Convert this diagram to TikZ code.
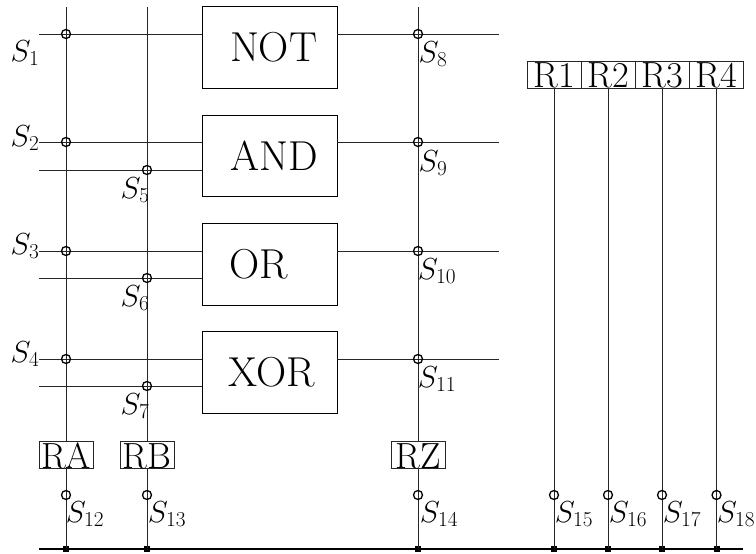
\RequirePackage{fix-cm}
\documentclass[tikz,border=0pt]{standalone}
\tikzset{
  wire/.style={line width=0.9bp,black!85},
  bus/.style={line width=1.6bp,black},
  gate/.style={draw,line width=0.8bp,text width=135bp,minimum height=81.5bp,inner sep=0pt,align=left,font=\fontsize{42}{44}\selectfont},
  reg/.style={draw,line width=0.7bp,black!85,text=black,minimum width=54bp,minimum height=27bp,inner sep=0pt,text height=27bp,text depth=0pt,font=\fontsize{36.5}{40}\selectfont},
  sw/.style={circle,draw,line width=1.3bp,black,fill=none,minimum size=9bp,inner sep=0pt},
  tap/.style={rectangle,fill=black,minimum size=6bp,inner sep=0pt},
  lab/.style={inner sep=0pt,font=\fontsize{30.5}{33}\selectfont}
}
\begin{document}
\begin{tikzpicture}[x=1bp,y=-1bp]
\useasboundingbox (0,0) rectangle (756,554);
% gates
\node[gate] (not) at (269.5,47.5) {\hspace*{28bp}NOT};
\node[gate] (and) at (269.5,156) {\hspace*{28.5bp}AND};
\node[gate] (or) at (269.5,264.5) {\hspace*{27bp}OR};
\node[gate] (xor) at (269.5,372.5) {\hspace*{26.5bp}XOR};
% registers
\node[reg] (ra) at (66,454.5) {RA};
\node[reg] (rb) at (147,454.5) {RB};
\node[reg] (rz) at (418,454.5) {RZ};
\node[reg] (r1) at (554,74.5) {R1};
\node[reg] (r2) at (608,74.5) {R2};
\node[reg] (r3) at (662,74.5) {R3};
\node[reg] (r4) at (716.5,74.5) {R4};
% free ends
\coordinate (ta) at (66,7);
\coordinate (tb) at (147,7);
\coordinate (tz) at (418,7);
\coordinate (busl) at (39,549);
\coordinate (busr) at (743,549);
\coordinate (l1) at (39,34);
\coordinate (l2) at (39,142);
\coordinate (l2b) at (39,170);
\coordinate (l3) at (39,251);
\coordinate (l3b) at (39,278);
\coordinate (l4) at (39,359);
\coordinate (l4b) at (39,386);
\coordinate (o1) at (499,34);
\coordinate (o2) at (499,142);
\coordinate (o3) at (499,251);
\coordinate (o4) at (499,359);
% bus taps
\node[tap] (pa) at (66,549) {};
\node[tap] (pb) at (147,549) {};
\node[tap] (pz) at (418,549) {};
\node[tap] (p1) at (554,549) {};
\node[tap] (p2) at (608,549) {};
\node[tap] (p3) at (662,549) {};
\node[tap] (p4) at (716.5,549) {};
% wires
\draw[wire] (ta) -- (ra.north);
\draw[wire] (tb) -- (rb.north);
\draw[wire] (tz) -- (rz.north);
\draw[wire] (ra.south) -- (pa.center);
\draw[wire] (rb.south) -- (pb.center);
\draw[wire] (rz.south) -- (pz.center);
\draw[wire] (r1.south) -- (p1.center);
\draw[wire] (r2.south) -- (p2.center);
\draw[wire] (r3.south) -- (p3.center);
\draw[wire] (r4.south) -- (p4.center);
\draw[wire] (l1) -- (l1 -| not.west);
\draw[wire] (l2) -- (l2 -| and.west);
\draw[wire] (l2b) -- (l2b -| and.west);
\draw[wire] (l3) -- (l3 -| or.west);
\draw[wire] (l3b) -- (l3b -| or.west);
\draw[wire] (l4) -- (l4 -| xor.west);
\draw[wire] (l4b) -- (l4b -| xor.west);
\draw[wire] (o1 -| not.east) -- (o1);
\draw[wire] (o2 -| and.east) -- (o2);
\draw[wire] (o3 -| or.east) -- (o3);
\draw[wire] (o4 -| xor.east) -- (o4);
\draw[bus] (busl) -- (busr);
% switches
\node[sw] (s1) at (66,34) {};
\node[sw] (s2) at (66,142) {};
\node[sw] (s3) at (66,251) {};
\node[sw] (s4) at (66,359) {};
\node[sw] (s5) at (147,170) {};
\node[sw] (s6) at (147,278) {};
\node[sw] (s7) at (147,386) {};
\node[sw] (s8) at (418,34) {};
\node[sw] (s9) at (418,142) {};
\node[sw] (s10) at (418,251) {};
\node[sw] (s11) at (418,359) {};
\node[sw] (s12) at (66,495) {};
\node[sw] (s13) at (147,495) {};
\node[sw] (s14) at (418,495) {};
\node[sw] (s15) at (554,495) {};
\node[sw] (s16) at (608,495) {};
\node[sw] (s17) at (662,495) {};
\node[sw] (s18) at (716.5,495) {};
% labels
\node[lab] (ls1) at (25,53) {$S_1$};
\node[lab] (ls2) at (25,138) {$S_2$};
\node[lab] (ls3) at (25,246) {$S_3$};
\node[lab] (ls4) at (25,354) {$S_4$};
\node[lab] (ls5) at (135,190) {$S_5$};
\node[lab] (ls6) at (135,298) {$S_6$};
\node[lab] (ls7) at (135,406) {$S_7$};
\node[lab] (ls8) at (433,54) {$S_8$};
\node[lab] (ls9) at (433,163) {$S_9$};
\node[lab] (ls10) at (437,271) {$S_{10}$};
\node[lab] (ls11) at (437,379) {$S_{11}$};
\node[lab] (ls12) at (85,514) {$S_{12}$};
\node[lab] (ls13) at (167,514) {$S_{13}$};
\node[lab] (ls14) at (439,514) {$S_{14}$};
\node[lab] (ls15) at (574,514) {$S_{15}$};
\node[lab] (ls16) at (628,514) {$S_{16}$};
\node[lab] (ls17) at (682,514) {$S_{17}$};
\node[lab] (ls18) at (736,514) {$S_{18}$};
\end{tikzpicture}
\end{document}
